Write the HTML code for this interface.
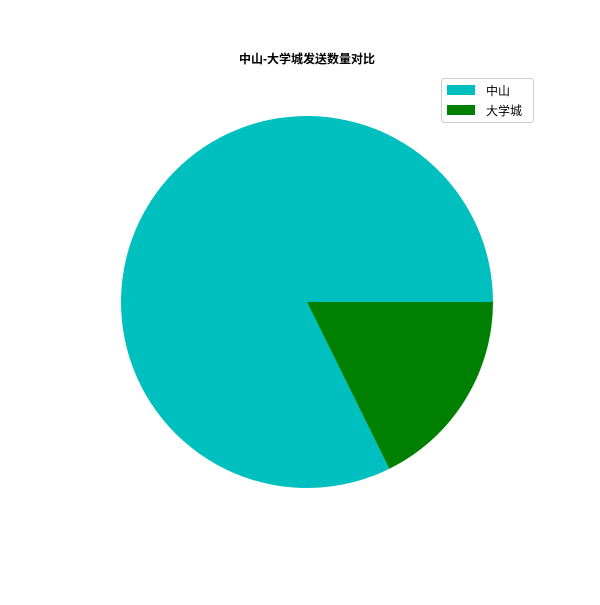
<!DOCTYPE html>
<html><head><meta charset="utf-8">
<style>
body{margin:0;background:#fff;width:600px;height:600px;overflow:hidden}
svg text{font-family:"Liberation Sans","Noto Sans CJK SC",sans-serif}
</style></head>
<body>
<svg id="chart" width="600" height="600">
<rect width="600" height="600" fill="#fff"/>
<text x="307" y="63" font-size="12" font-weight="bold" text-anchor="middle">中山-大学城发送数量对比</text>
<g id="slices"></g>
<g>
<rect x="441.5" y="78.5" width="92" height="44" rx="3" fill="#fff" stroke="#ccc"/>
<g id="legend-items"></g>
</g>
</svg>
<script>
const categories = ["中山", "大学城"];
const values = [82.3, 17.7];
const colors = ["#00bfbf", "#008000"];
const cx = 307, cy = 302, r = 186;
const ns = "http://www.w3.org/2000/svg";
const total = values.reduce((a, b) => a + b, 0);
const g = document.getElementById("slices");
let a0 = 0;
values.forEach((v, i) => {
  const a1 = a0 + v / total * 2 * Math.PI;
  const x0 = cx + r * Math.cos(a0), y0 = cy - r * Math.sin(a0);
  const x1 = cx + r * Math.cos(a1), y1 = cy - r * Math.sin(a1);
  const large = (a1 - a0) > Math.PI ? 1 : 0;
  const p = document.createElementNS(ns, "path");
  p.setAttribute("d", `M${cx},${cy} L${x0},${y0} A${r},${r} 0 ${large} 0 ${x1},${y1} Z`);
  p.setAttribute("fill", colors[i]);
  
  
  g.appendChild(p);
  a0 = a1;
});
const lg = document.getElementById("legend-items");
categories.forEach((c, i) => {
  const y = 85 + i * 20;
  const r2 = document.createElementNS(ns, "rect");
  r2.setAttribute("x", 447); r2.setAttribute("y", y);
  r2.setAttribute("width", 28); r2.setAttribute("height", 10);
  r2.setAttribute("fill", colors[i]);
  
  
  lg.appendChild(r2);
  const t = document.createElementNS(ns, "text");
  t.setAttribute("x", 486); t.setAttribute("y", y + 10);
  t.setAttribute("font-size", "12");
  t.textContent = c;
  
  
  lg.appendChild(t);
});
</script>
</body></html>
